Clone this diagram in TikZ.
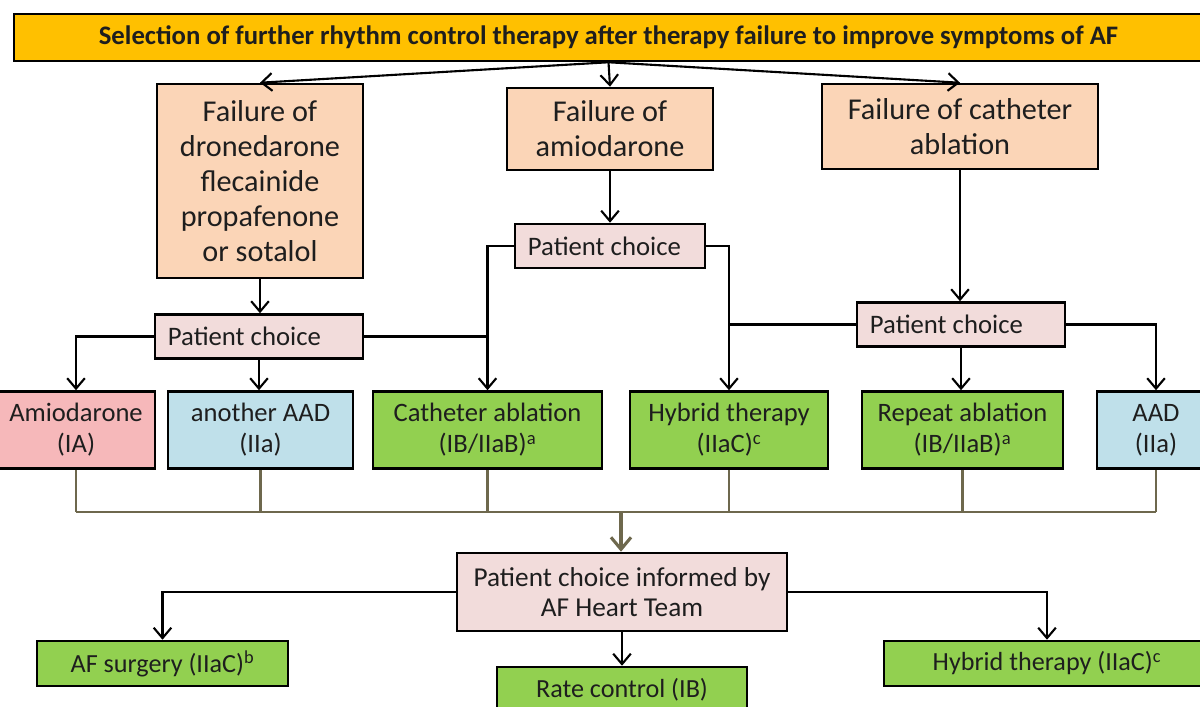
\documentclass[tikz,border=0pt]{standalone}
\usepackage{fontspec}
\setmainfont{Carlito}
\usetikzlibrary{arrows.meta}
\definecolor{gold}{HTML}{FFC000}
\definecolor{peach}{HTML}{FBD5B7}
\definecolor{lpink}{HTML}{F2DCDB}
\definecolor{rose}{HTML}{F6B8BA}
\definecolor{lblue}{HTML}{BFE0EA}
\definecolor{lgreen}{HTML}{92D050}
\definecolor{olive}{HTML}{6E684D}
\definecolor{txt}{HTML}{1E1E1E}

\begin{document}
\begin{tikzpicture}[x=0.025cm,y=-0.025cm,
    >={Straight Barb[length=2.6mm,width=4.4mm]},
    box/.style={draw=black,line width=1.8pt,align=center,inner sep=2pt,text=txt},
    fail/.style={box,fill=peach,font=\fontsize{21.5}{25}\selectfont},
    choice/.style={box,fill=lpink,font=\fontsize{19}{21}\selectfont,align=flush left,
      inner xsep=0.325cm,text width=#1,minimum height=1.1cm},
    opt/.style={box,font=\fontsize{18.9}{22}\selectfont,minimum height=1.925cm},
    res/.style={box,fill=lgreen,font=\fontsize{18.6}{21}\selectfont},
    link/.style={line width=1.5pt,->},
    bus/.style={draw=olive,line width=1.5pt}]
  \useasboundingbox (0,0) rectangle (1200,706);

  % title bar
  \node (top) [box,fill=gold,minimum width=29.725cm,minimum height=1.175cm,
    font=\bfseries\fontsize{19}{21}\selectfont] at (608.5,37.5)
    {Selection of further rhythm control therapy after therapy failure to improve symptoms of AF};

  % failures
  \node (fA) [fail,minimum width=5.15cm,minimum height=4.85cm] at (260,181)
    {Failure of\\dronedarone\\flecainide\\propafenone\\or sotalol};
  \node (fB) [fail,minimum width=5.15cm,minimum height=2.05cm] at (610,129)
    {Failure of\\amiodarone};
  \node (fC) [fail,minimum width=6.9cm,minimum height=2.125cm] at (960,126.5)
    {Failure of catheter\\ablation};
  \foreach \n in {fA,fB,fC}{
    \draw [link] (top.south) -- (\n.north);
  }

  % patient choices
  \node (pc1) [choice=4.55cm] at (259,336.5) {Patient choice};
  \node (pc2) [choice=4.1cm] at (610,246) {Patient choice};
  \node (pc3) [choice=4.55cm] at (961,324.5) {Patient choice};
  \draw [link] (fA.south) -- (fA.south |- pc1.north);
  \draw [link] (fB.south) -- (pc2.north);
  \draw [link] (fC.south) -- (fC.south |- pc3.north);

  % options
  \foreach \n/\x/\w/\c/\t in {
      amio/76/3.95cm/rose/{Amiodarone\\(IA)},
      aad1/260.5/4.625cm/lblue/{another AAD\\(IIa)},
      cath/487.5/5.725cm/lgreen/{Catheter ablation\\(IB/IIaB)\textsuperscript{a}},
      hyb1/729/4.95cm/lgreen/{Hybrid therapy\\(IIaC)\textsuperscript{c}},
      rep/962.5/5.025cm/lgreen/{Repeat ablation\\(IB/IIaB)\textsuperscript{a}},
      aad2/1156/2.95cm/lblue/{AAD\\(IIa)}}{
    \node (\n) [opt,fill=\c,minimum width=\w] at (\x,430) {\t};
  }
  \draw [link] (pc1.west) -| (amio.north);
  \draw [link] (pc1.south) -- (pc1.south |- aad1.north);
  \draw [line width=1.5pt] (pc1.east) -- (pc1.east -| cath.north);
  \draw [link] (pc2.west) -| (cath.north);
  \draw [link] (pc2.east) -| (hyb1.north);
  \draw [line width=1.5pt] (pc3.west) -- (pc3.west -| hyb1.north);
  \draw [link] (pc3.south) -- (pc3.south |- rep.north);
  \draw [link] (pc3.east) -| (aad2.north);

  % heart team
  \node (team) [box,fill=lpink,minimum width=8.25cm,minimum height=1.95cm,
    font=\fontsize{19.4}{21}\selectfont] at (622,592)
    {Patient choice informed by\\AF Heart Team};
  \coordinate (bus) at (621,512);
  \foreach \n in {amio,aad1,cath,hyb1,rep,aad2}{
    \draw [bus] (\n.south) -- (\n.south |- bus);
  }
  \draw [bus] (amio.south |- bus) -- (aad2.south |- bus);
  \draw [bus,line width=2.2pt,-{Straight Barb[length=3mm,width=5mm]}] (bus) -- (bus |- team.north);

  % results
  \node (surg) [res,minimum width=6.275cm,minimum height=1.125cm] at (162.5,663.5)
    {AF surgery (IIaC)\textsuperscript{b}};
  \node (rate) [res,minimum width=6.25cm,minimum height=1.15cm] at (622,690)
    {Rate control (IB)};
  \node (hyb2) [res,minimum width=8.15cm,minimum height=1.125cm] at (1047,663.5)
    {Hybrid therapy (IIaC)\textsuperscript{c}};
  \draw [link] (team.west) -| (surg.north);
  \draw [link] (team.south) -- (rate.north);
  \draw [link] (team.east) -| (hyb2.north);
\end{tikzpicture}
\end{document}
